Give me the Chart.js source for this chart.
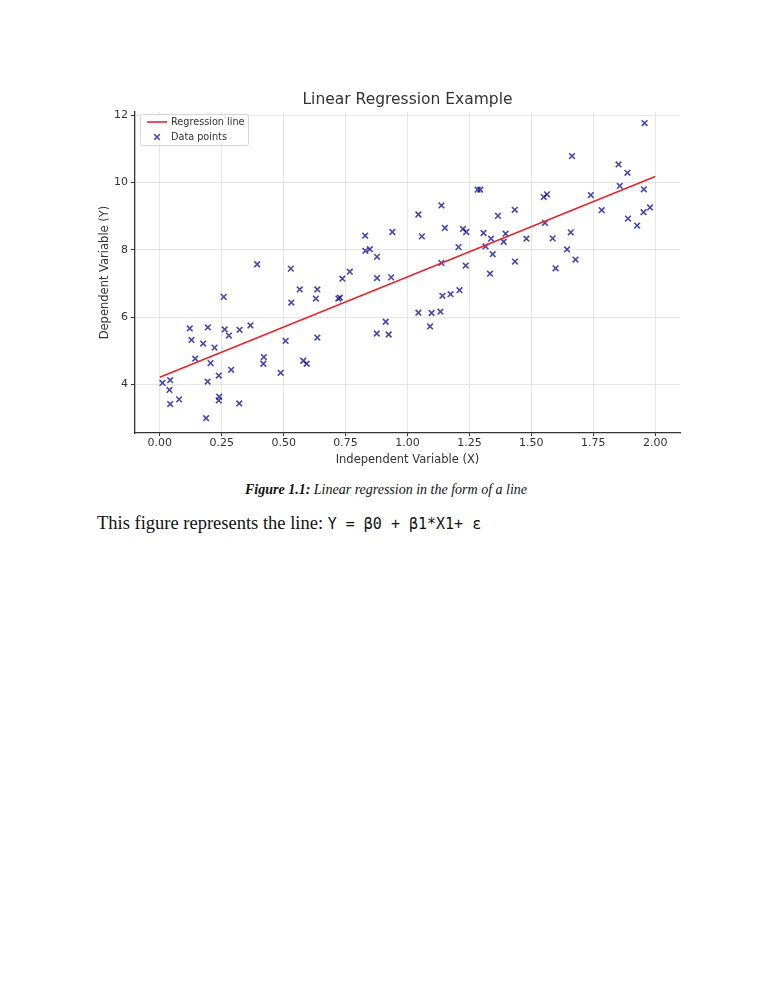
<!DOCTYPE html>
<html>
<head>
<meta charset="utf-8">
<script src="https://cdn.jsdelivr.net/npm/chart.js@4.4.1/dist/chart.umd.min.js"></script>
<style>
    html, body { margin: 0; padding: 0; background: #fff; }
    body { width: 772px; height: 1000px; position: relative; overflow: hidden; }
    #chartWrap { position: absolute; left: 80px; top: 80px; width: 610px; height: 400px; }
    .caption {
        position: absolute; left: 0; top: 482px; width: 772px; text-align: center;
        font-family: "Liberation Serif", serif; font-size: 14px; font-style: italic; line-height: 16px; color: #111;
    }
    .body-text {
        position: absolute; left: 97px; top: 512px; white-space: nowrap;
        font-family: "Liberation Serif", serif; font-size: 18.5px; line-height: 22px; color: #111;
    }
    .body-text code { font-family: "DejaVu Sans Mono", monospace; font-size: 15px; }
</style>
</head>
<body>
<div id="chartWrap"><canvas id="regressionChart"></canvas></div>
<div class="caption"><b>Figure 1.1:</b> Linear regression in the form of a line</div>
<div class="body-text">This figure represents the line: <code>Y = β0 + β1*X1+ ε</code></div>

<script>
// Data points
const pointsX = [
    0.011, 0.042, 0.039, 0.042, 0.078, 0.121, 0.128, 0.143, 0.175, 0.187,
    0.193, 0.194, 0.205, 0.221, 0.238, 0.240, 0.238, 0.258, 0.262, 0.279,
    0.288, 0.321, 0.322, 0.366, 0.393, 0.420, 0.418, 0.488, 0.508, 0.529,
    0.531, 0.565, 0.579, 0.593, 0.630, 0.636, 0.636, 0.721, 0.727, 0.737,
    0.767, 0.829, 0.830, 0.848, 0.877, 0.877, 0.876, 0.912, 0.924, 0.934,
    0.939, 1.044, 1.058, 1.044, 1.097, 1.133, 1.091, 1.141, 1.174, 1.210,
    1.137, 1.137, 1.151, 1.206, 1.224, 1.237, 1.235, 1.283, 1.294, 1.307,
    1.315, 1.337, 1.344, 1.333, 1.365, 1.388, 1.396, 1.433, 1.434, 1.480,
    1.550, 1.563, 1.555, 1.586, 1.598, 1.644, 1.659, 1.664, 1.678, 1.740,
    1.784, 1.852, 1.857, 1.888, 1.890, 1.927, 1.953, 1.954, 1.957, 1.979
];
const pointsY = [
    4.04, 4.12, 3.83, 3.41, 3.55, 5.66, 5.32, 4.76, 5.21, 2.99,
    4.08, 5.69, 4.63, 5.09, 4.26, 3.63, 3.52, 6.60, 5.63, 5.45,
    4.43, 3.43, 5.62, 5.75, 7.57, 4.81, 4.61, 4.34, 5.29, 7.44,
    6.43, 6.82, 4.70, 4.61, 6.55, 6.82, 5.39, 6.55, 6.58, 7.14,
    7.35, 8.42, 7.97, 8.02, 7.79, 7.16, 5.51, 5.86, 5.48, 7.18,
    8.53, 9.05, 8.40, 6.13, 6.12, 6.16, 5.72, 6.63, 6.68, 6.80,
    7.61, 9.32, 8.65, 8.08, 8.62, 8.53, 7.53, 9.79, 9.79, 8.50,
    8.10, 8.33, 7.87, 7.29, 9.01, 8.24, 8.48, 9.19, 7.65, 8.33,
    9.57, 9.65, 8.80, 8.34, 7.45, 8.01, 8.52, 10.79, 7.71, 9.63,
    9.18, 10.54, 9.90, 10.29, 8.93, 8.72, 9.12, 9.80, 11.77, 9.26
];

// Fitted line end points
const lineX = [0.0, 2.0];
const lineY = [4.21, 10.18];

// Axis ticks
const xTicks = [0.0, 0.25, 0.5, 0.75, 1.0, 1.25, 1.5, 1.75, 2.0];
const yTicks = [4, 6, 8, 10, 12];

const pointColor = 'rgba(0, 0, 139, 0.72)';
const lineColor = '#e3262b';
const textColor = '#333';
const gridColor = '#e6e6e6';
const fontFamily = '"DejaVu Sans", sans-serif';

// Matplotlib-like legend box drawn inside the plot area (top-left)
const insideLegend = {
    id: 'insideLegend',
    afterDraw(chart) {
        const { ctx, chartArea } = chart;
        const left = chartArea.left + 5;
        const top = chartArea.top + 2;
        const w = 108, h = 31;
        ctx.save();
        ctx.fillStyle = 'rgba(255,255,255,0.85)';
        ctx.strokeStyle = '#d6d6d6';
        ctx.lineWidth = 1;
        ctx.beginPath();
        ctx.roundRect(left + 0.5, top + 0.5, w, h, 2);
        ctx.fill();
        ctx.stroke();

        ctx.font = '9.7px ' + fontFamily;
        ctx.fillStyle = textColor;
        ctx.textBaseline = 'middle';
        const textX = left + 31;

        // Regression line
        let y = top + 8;
        ctx.strokeStyle = lineColor;
        ctx.lineWidth = 1.6;
        ctx.beginPath();
        ctx.moveTo(left + 7, y);
        ctx.lineTo(left + 27, y);
        ctx.stroke();
        ctx.fillText(chart.data.datasets[0].label, textX, y);

        // Data points
        y = top + 23;
        const cx = left + 17, r = 2.8;
        ctx.strokeStyle = pointColor;
        ctx.lineWidth = 1.6;
        ctx.beginPath();
        ctx.moveTo(cx - r, y - r); ctx.lineTo(cx + r, y + r);
        ctx.moveTo(cx - r, y + r); ctx.lineTo(cx + r, y - r);
        ctx.stroke();
        ctx.fillText(chart.data.datasets[1].label, textX, y);
        ctx.restore();
    }
};

new Chart(document.getElementById('regressionChart'), {
    type: 'scatter',
    data: {
        datasets: [
            {
                type: 'line',
                label: 'Regression line',
                data: lineX.map((x, i) => ({ x: x, y: lineY[i] })),
                borderColor: lineColor,
                borderWidth: 1.6,
                pointRadius: 0,
                fill: false,
                order: 0
            },
            {
                label: 'Data points',
                data: pointsX.map((x, i) => ({ x: x, y: pointsY[i] })),
                pointStyle: 'crossRot',
                pointRadius: 4,
                borderColor: pointColor,
                backgroundColor: pointColor,
                borderWidth: 1.6,
                order: 1
            }
        ]
    },
    options: {
        responsive: true,
        maintainAspectRatio: false,
        animation: false,
        layout: { padding: { left: 0, right: 10, top: 0, bottom: 0 } },
        plugins: {
            legend: { display: false },
            tooltip: { enabled: false },
            title: {
                display: true,
                text: 'Linear Regression Example',
                fullSize: false,
                color: textColor,
                font: { family: fontFamily, size: 15.5, weight: 'normal' },
                padding: { top: 11, bottom: 2.4 }
            }
        },
        scales: {
            x: {
                type: 'linear',
                min: -0.1,
                max: 2.1,
                afterBuildTicks: scale => { scale.ticks = xTicks.map(v => ({ value: v })); },
                afterFit: scale => { scale.height = 47; },
                ticks: {
                    callback: v => v.toFixed(2),
                    color: textColor,
                    font: { family: fontFamily, size: 11 },
                    padding: 1,
                    maxRotation: 0
                },
                grid: { color: gridColor, tickColor: textColor, tickLength: 3 },
                border: { color: textColor, width: 1.3 },
                title: {
                    display: true,
                    text: 'Independent Variable (X)',
                    color: textColor,
                    font: { family: fontFamily, size: 11.5 },
                    padding: { top: 0, bottom: 13 }
                }
            },
            y: {
                type: 'linear',
                min: 2.55,
                max: 12.1,
                afterBuildTicks: scale => { scale.ticks = yTicks.map(v => ({ value: v })); },
                afterFit: scale => { scale.width = 55; },
                ticks: {
                    color: textColor,
                    font: { family: fontFamily, size: 11 },
                    padding: 3
                },
                grid: { color: gridColor, tickColor: textColor, tickLength: 4 },
                border: { color: textColor, width: 1.3 },
                title: {
                    display: true,
                    text: 'Dependent Variable (Y)',
                    color: textColor,
                    font: { family: fontFamily, size: 11.5 },
                    padding: { top: 18, bottom: 0 }
                }
            }
        }
    },
    plugins: [insideLegend]
});
</script>
</body>
</html>
